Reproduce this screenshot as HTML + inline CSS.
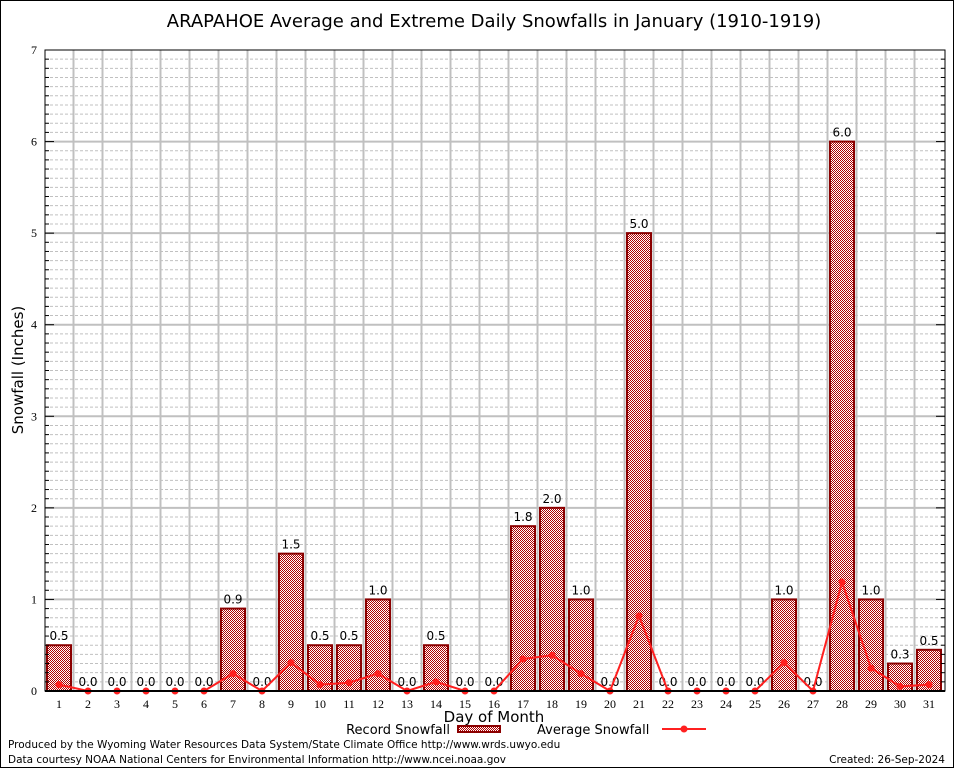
<!DOCTYPE html>
<html><head><meta charset="utf-8"><style>
html,body{margin:0;padding:0;background:#fff}
svg{display:block;font-family:"DejaVu Sans","Liberation Sans",sans-serif}
</style></head><body>
<svg id="chart" width="954" height="768" viewBox="0 0 954 768" xmlns="http://www.w3.org/2000/svg">
<defs>
<pattern id="hatch" width="2" height="2" patternUnits="userSpaceOnUse">
<rect width="2" height="2" fill="#fff"/>
<rect width="1" height="1" fill="#b00000"/>
<rect x="1" y="1" width="1" height="1" fill="#b00000"/>
</pattern>
</defs>
<rect x="0.5" y="0.5" width="953" height="767" fill="#fff" stroke="#000"/>
<text x="494" y="27" font-size="18" text-anchor="middle">ARAPAHOE Average and Extreme Daily Snowfalls in January (1910-1919)</text>
<g id="grid"></g>
<g id="bars"></g>
<g id="line"></g>
<g id="axes"></g>
<text transform="translate(23,370) rotate(-90)" font-size="15" text-anchor="middle">Snowfall (Inches)</text>
<text x="494" y="722" font-size="15" text-anchor="middle">Day of Month</text>
<g>
<text x="450" y="734" font-size="13" text-anchor="end">Record Snowfall</text>
<rect x="458" y="726" width="42" height="6" fill="url(#hatch)" stroke="#8b0000" stroke-width="2"/>
</g>
<g>
<text x="537" y="734" font-size="13">Average Snowfall</text>
<line x1="662" y1="729" x2="706" y2="729" stroke="#ff2020" stroke-width="2"/>
<circle cx="684" cy="729" r="3.5" fill="#ff2020"/>
</g>
<text x="8" y="748" font-size="10.5">Produced by the Wyoming Water Resources Data System/State Climate Office http://www.wrds.uwyo.edu</text>
<text x="8" y="763" font-size="10.5">Data courtesy NOAA National Centers for Environmental Information http://www.ncei.noaa.gov</text>
<text x="945" y="763" font-size="10.5" text-anchor="end">Created: 26-Sep-2024</text>
</svg>
<script>
const days = [1,2,3,4,5,6,7,8,9,10,11,12,13,14,15,16,17,18,19,20,21,22,23,24,25,26,27,28,29,30,31];
const recordValues = [0.5,0,0,0,0,0,0.9,0,1.5,0.5,0.5,1.0,0,0.5,0,0,1.8,2.0,1.0,0,5.0,0,0,0,0,1.0,0,6.0,1.0,0.3,0.45];
const recordLabels = ["0.5","0.0","0.0","0.0","0.0","0.0","0.9","0.0","1.5","0.5","0.5","1.0","0.0","0.5","0.0","0.0","1.8","2.0","1.0","0.0","5.0","0.0","0.0","0.0","0.0","1.0","0.0","6.0","1.0","0.3","0.5"];
const averageValues = [0.07,0,0,0,0,0,0.19,0,0.31,0.07,0.09,0.19,0,0.1,0,0,0.35,0.39,0.19,0,0.82,0,0,0,0,0.31,0,1.19,0.25,0.05,0.07];
const yTicks = [0,1,2,3,4,5,6,7];

const NS = "http://www.w3.org/2000/svg";
const L = 45, R = 945, T = 50, B = 691, yMax = 7;
const x0 = 59, dx = 29;
function xs(d){ return x0 + (d - 1) * dx; }
function ys(v){ return B - v / yMax * (B - T); }
function mk(tag, attrs, parent){
  const e = document.createElementNS(NS, tag);
  for (const k in attrs) e.setAttribute(k, attrs[k]);
  parent.appendChild(e);
  return e;
}
const grid = document.getElementById('grid');
const bars = document.getElementById('bars');
const line = document.getElementById('line');
const axes = document.getElementById('axes');

for (let i = 1; i < yMax * 10; i++) {
  if (i % 10 === 0) continue;
  const y = ys(i / 10);
  const g = mk('line', {x1:L, x2:R, y1:y, y2:y, stroke:'#c0c0c0', 'stroke-width':1, 'stroke-dasharray':'3,2'}, grid);
  
  
  mk('line', {x1:L, x2:L+4, y1:y, y2:y, stroke:'#000'}, axes);
  mk('line', {x1:R-4, x2:R, y1:y, y2:y, stroke:'#000'}, axes);
}
for (let d = 1; d < days.length; d++) {
  const x = xs(d) + dx / 2;
  const g = mk('line', {x1:x, x2:x, y1:T, y2:B, stroke:'#c0c0c0', 'stroke-width':2}, grid);
  
  
}
yTicks.forEach(v => {
  const y = ys(v);
  if (v > 0 && v < yMax) {
    const g = mk('line', {x1:L, x2:R, y1:y, y2:y, stroke:'#c0c0c0', 'stroke-width':2}, grid);
    
    
  }
  mk('line', {x1:L, x2:L+9, y1:y, y2:y, stroke:'#000'}, axes);
  mk('line', {x1:R-9, x2:R, y1:y, y2:y, stroke:'#000'}, axes);
  const t = mk('text', {x:L-8, y:y+4, 'font-size':12, 'text-anchor':'end', 'font-family':'Liberation Serif, serif'}, axes);
  t.textContent = v;
  
  
});
days.forEach((d, i) => {
  const v = recordValues[i];
  const x = xs(d);
  if (v > 0) {
    const r = mk('rect', {x:x-12, y:ys(v), width:24, height:B-ys(v), fill:'url(#hatch)', stroke:'#8b0000', 'stroke-width':2}, bars);
    
    
  }
  const t = mk('text', {x:x, y:ys(v)-5, 'font-size':12, 'text-anchor':'middle'}, bars);
  t.textContent = recordLabels[i];
  
  
  const xl = mk('text', {x:x, y:708, 'font-size':12, 'text-anchor':'middle', 'font-family':'Liberation Serif, serif'}, axes);
  xl.textContent = d;
  
  
});
const pts = days.map((d, i) => xs(d) + ',' + ys(averageValues[i])).join(' ');
const pl = mk('polyline', {points:pts, fill:'none', stroke:'#ff2020', 'stroke-width':2}, line);


days.forEach((d, i) => {
  const c = mk('circle', {cx:xs(d), cy:ys(averageValues[i]), r:3.5, fill:'#ff2020'}, line);
  
  
});
const fr = mk('rect', {x:L, y:T, width:R-L, height:B-T, fill:'none', stroke:'#000', 'stroke-width':1}, axes);


const xa = mk('line', {x1:L, x2:R, y1:B, y2:B, stroke:'#000', 'stroke-width':2}, axes);


</script>
</body></html>
